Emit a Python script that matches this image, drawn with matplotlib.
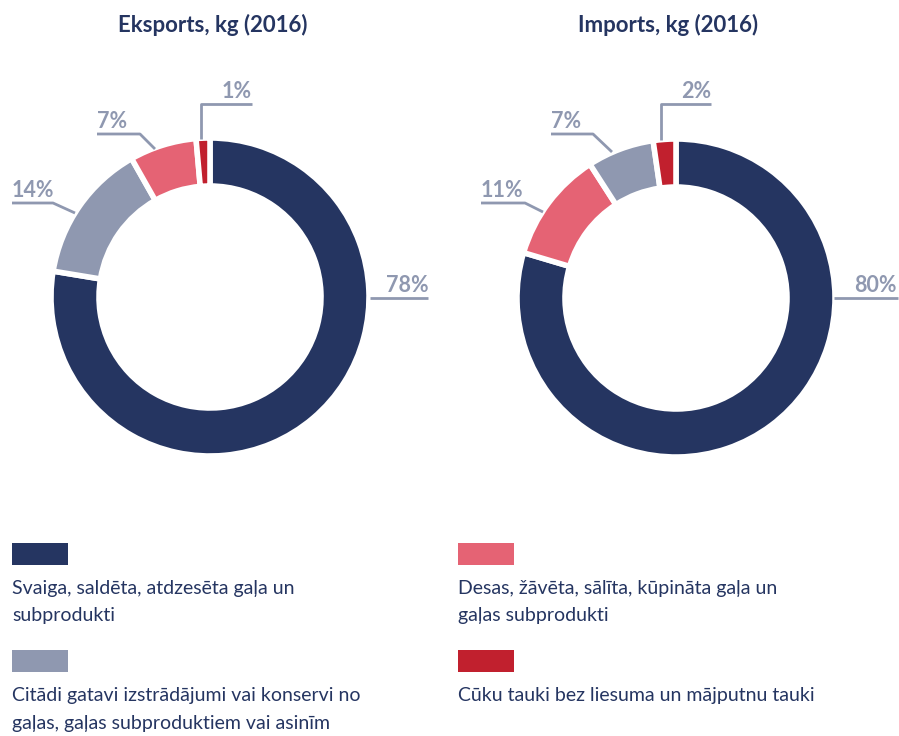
import matplotlib
matplotlib.use('Agg')
import matplotlib.pyplot as plt

plt.rcParams['font.family'] = ['Lato', 'DejaVu Sans']

navy = '#253561'
grey = '#8f98b0'
pink = '#e56374'
red = '#c1202e'

# data
export_title = 'Eksports, kg (2016)'
import_title = 'Imports, kg (2016)'
export_values = [77.6, 14.2, 6.8, 1.4]
export_colors = [navy, grey, pink, red]
import_values = [79.6, 11.3, 6.8, 2.3]
import_colors = [navy, pink, grey, red]
legend_labels = ['Svaiga, saldēta, atdzesēta gaļa un\nsubprodukti',
                 'Desas, žāvēta, sālīta, kūpināta gaļa un\ngaļas subprodukti',
                 'Citādi gatavi izstrādājumi vai konservi no\ngaļas, gaļas subproduktiem vai asinīm',
                 'Cūku tauki bez liesuma un mājputnu tauki']
legend_colors = [navy, pink, grey, red]

H = 736
fig = plt.figure(figsize=(8.99, 7.36), dpi=100)
ax = fig.add_axes([0, 0, 1, 1])

# leader lines (pixel coords from top) and label anchor, per slice
export_leaders = [
    [(370, 298), (428, 298)],
    [(75, 213), (53, 203), (12, 203)],
    [(155, 149), (140, 134), (97, 134)],
    [(201, 139), (201, 104), (252, 104)],
]
export_text = [(429, 292, 'right'), (12, 197, 'left'), (97, 128, 'left'), (222, 98, 'left')]
import_leaders = [
    [(834, 298), (898, 298)],
    [(543, 212), (525, 203), (481, 203)],
    [(612, 152), (593, 134), (551, 134)],
    [(661, 140), (661, 104), (711, 104)],
]
import_text = [(897, 292, 'right'), (481, 197, 'left'), (551, 128, 'left'), (681, 98, 'left')]


def donut(cx, cy, values, colors, leaders, texts, title, tx):
    ax.pie(values, colors=colors, startangle=90, counterclock=False,
           radius=159, center=(cx, H - cy),
           wedgeprops=dict(width=48, edgecolor='white', linewidth=4))
    for v, pts, (x, y, ha) in zip(values, leaders, texts):
        ax.plot([p[0] for p in pts], [H - p[1] for p in pts], color=grey, lw=2,
                solid_capstyle='butt')
        ax.text(x, H - y, f'{round(v)}%', color=grey, fontsize=15.5, fontweight='bold',
                ha=ha, va='baseline')
    ax.text(tx, H - 25, title, color=navy, fontsize=16, fontweight='bold',
            ha='center', va='center')


donut(210, 297, export_values, export_colors, export_leaders, export_text, export_title, 213)
donut(676, 298, import_values, import_colors, import_leaders, import_text, import_title, 668)

# legend
legend_pos = [(12, 543), (458, 543), (12, 650), (458, 650)]
for (x, y), lab, c in zip(legend_pos, legend_labels, legend_colors):
    ax.add_patch(plt.Rectangle((x, H - y - 22), 56, 22, color=c, lw=0))
    ax.text(x, H - y - 37, lab, color=navy, fontsize=14, ha='left', va='top',
            linespacing=1.75)

ax.set_xlim(0, 899)
ax.set_ylim(0, H)
ax.set_aspect('equal')
ax.axis('off')

fig.savefig('out.png', dpi=100)
